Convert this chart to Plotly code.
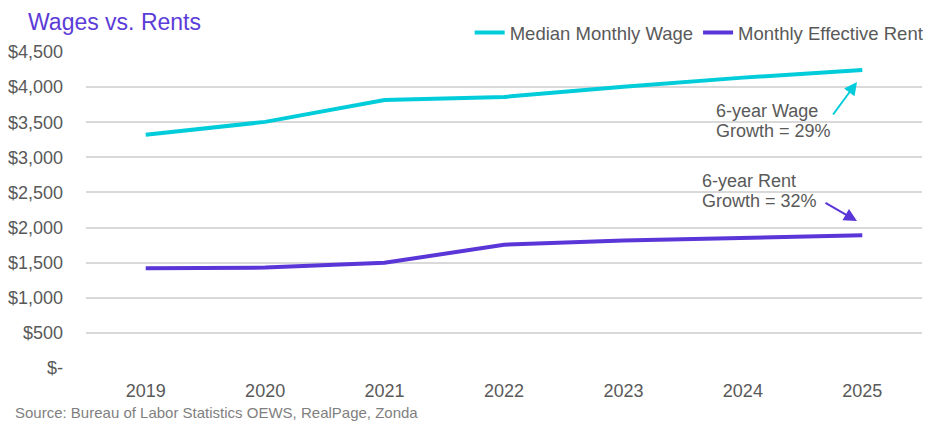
import plotly.graph_objects as go

years = ["2019", "2020", "2021", "2022", "2023", "2024", "2025"]
wage = [3320, 3505, 3815, 3860, 4005, 4135, 4245]
rent = [1420, 1430, 1498, 1755, 1815, 1846, 1889]
y_tickvals = [0, 500, 1000, 1500, 2000, 2500, 3000, 3500, 4000, 4500]
y_ticktext = ["$-", "$500", "$1,000", "$1,500", "$2,000", "$2,500", "$3,000", "$3,500", "$4,000", "$4,500"]

TEAL = "#00CCDA"
PURPLE = "#5A36D8"
GRAY = "#595959"
FONT = "Liberation Sans, Arial, sans-serif"

fig = go.Figure()
fig.add_trace(go.Scatter(x=years, y=wage, mode="lines", name="Median Monthly Wage",
                         line=dict(color=TEAL, width=4)))
fig.add_trace(go.Scatter(x=years, y=rent, mode="lines", name="Monthly Effective Rent",
                         line=dict(color=PURPLE, width=4)))

W, H = 936, 431
L, R, T, B = 86, 14, 52, 63
pw, ph = W - L - R, H - T - B

def px(x):
    return (x - L) / pw

def py(y):
    return (H - B - y) / ph

ann = []
# Title
ann.append(dict(text="Wages vs. Rents", xref="paper", yref="paper", x=px(26), y=py(22),
                xanchor="left", yanchor="middle", showarrow=False,
                font=dict(size=23, color="#5B3CD8", family=FONT)))
# Source
ann.append(dict(text="Source: Bureau of Labor Statistics OEWS, RealPage, Zonda", xref="paper", yref="paper",
                x=px(13), y=py(412), xanchor="left", yanchor="middle", showarrow=False,
                font=dict(size=15, color="#7f7f7f", family=FONT)))
# Wage label
for txt, yy in [("6-year Wage", 111), ("Growth = 29%", 131)]:
    ann.append(dict(text=txt, xref="paper", yref="paper", x=px(714), y=py(yy),
                    xanchor="left", yanchor="middle", showarrow=False,
                    font=dict(size=18, color=GRAY, family=FONT)))
for txt, yy in [("6-year Rent", 181), ("Growth = 32%", 201)]:
    ann.append(dict(text=txt, xref="paper", yref="paper", x=px(700), y=py(yy),
                    xanchor="left", yanchor="middle", showarrow=False,
                    font=dict(size=18, color=GRAY, family=FONT)))
# Arrows
ann.append(dict(text="", xref="paper", yref="paper", x=px(857), y=py(82), ax=832 - 857, ay=116 - 82,
                showarrow=True, arrowhead=2, arrowsize=1.3, arrowwidth=2, arrowcolor=TEAL, standoff=0))
ann.append(dict(text="", xref="paper", yref="paper", x=px(857), y=py(221), ax=824 - 857, ay=202 - 221,
                showarrow=True, arrowhead=2, arrowsize=1.3, arrowwidth=2, arrowcolor=PURPLE, standoff=0))

fig.update_layout(
    width=W, height=H,
    margin=dict(l=L, r=R, t=T, b=B, autoexpand=False),
    paper_bgcolor="white", plot_bgcolor="white",
    font=dict(family=FONT, size=18, color=GRAY),
    showlegend=True,
    legend=dict(orientation="h", x=1.008, xanchor="right", y=py(33), yanchor="middle",
                font=dict(size=18.5, color=GRAY), bgcolor="rgba(0,0,0,0)",
                itemwidth=30, tracegroupgap=0),
    annotations=ann,
    xaxis=dict(type="category", range=[-0.5, 6.5], showgrid=False, zeroline=False,
               showline=False, ticks="", tickfont=dict(size=18, color=GRAY),
               ticklabelstandoff=10, automargin=False),
    yaxis=dict(range=[0, 4500], tickvals=y_tickvals, ticktext=y_ticktext,
               showgrid=True, gridcolor="#d9d9d9", gridwidth=1.5, zeroline=False,
               showline=False, ticks="", tickfont=dict(size=18, color=GRAY),
               ticklabelstandoff=22, automargin=False),
)

fig.write_html("out.html", config={"displayModeBar": False},
               post_script="document.body.style.margin='0';document.body.style.padding='0';")
